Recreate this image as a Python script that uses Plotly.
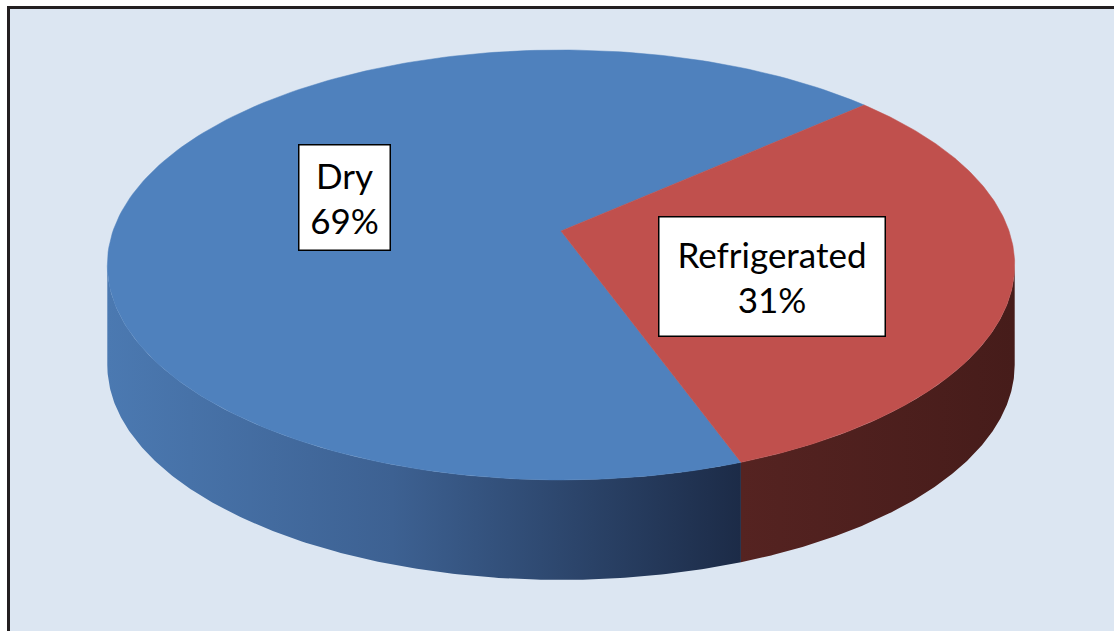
import math
import plotly.graph_objects as go

# ---- data ----
labels = ["Dry", "Refrigerated"]
values = [69, 31]
top_colors = ["#4f81bd", "#c0504d"]
side_scales = [
    [[0, "#4b79b1"], [0.45, "#3d6192"], [1, "#1c2b47"]],
    [[0, "#552321"], [1, "#461c1a"]],
]

# ---- geometry (pixel space) ----
W, H = 1114, 631
VX, VY = 561, 231          # projected centre of the disc
P, R, Q = 448, 209.6, -0.158  # perspective projection parameters
DEPTH = 100
START = -70.0              # angle (deg) where the first slice starts, going clockwise


def proj(theta_deg, dy=0.0):
    t = math.radians(theta_deg)
    u, v = math.cos(t), -math.sin(t)
    den = 1 + Q * v
    return VX + P * u / den, VY + R * v / den + dy


def arc(a0, a1, dy=0.0, n=200):
    xs, ys = [], []
    for i in range(n + 1):
        a = a0 + (a1 - a0) * i / n
        x, y = proj(a, dy)
        xs.append(x)
        ys.append(y)
    return xs, ys


total = sum(values)
spans = [v / total * 360 for v in values]
vis_lo = 180 - math.degrees(math.asin(Q)) - 360   # about -170.9
vis_hi = math.degrees(math.asin(Q))               # about -9.1

fig = go.Figure()

# sides
a = START
slices = []
for i, s in enumerate(spans):
    a0, a1 = a, a - s
    slices.append((a0, a1))
    lo, hi = min(a0, a1), max(a0, a1)
    for k in (-720, -360, 0, 360, 720):
        l2, h2 = max(lo + k, vis_lo), min(hi + k, vis_hi)
        if h2 > l2:
            tx, ty = arc(l2, h2)
            bx, by = arc(h2, l2, DEPTH)
            fig.add_trace(go.Scatter(
                x=tx + bx, y=ty + by, mode="lines", fill="toself",
                line=dict(width=0),
                fillgradient=dict(type="horizontal", colorscale=side_scales[i]),
                hoverinfo="skip", showlegend=False))
    a -= s

# tops
for i, (a0, a1) in enumerate(slices):
    xs, ys = arc(a0, a1)
    fig.add_trace(go.Scatter(
        x=[VX] + xs + [VX], y=[VY] + ys + [VY], mode="lines", fill="toself",
        fillcolor=top_colors[i], line=dict(width=0.5, color=top_colors[i]),
        hoverinfo="skip", showlegend=False))

# labels
label_pos = [(344.5, 197.5, 90, 104), (772, 276.5, 225, 118)]
annotations = []
for i, lab in enumerate(labels):
    pct = round(values[i] / total * 100)
    x, y, w, h = label_pos[i]
    annotations.append(dict(
        x=x, y=y, xref="x", yref="y", text=f"{lab}<br>{pct}%", showarrow=False,
        font=dict(family="Lato", size=35, color="black"),
        bgcolor="white", bordercolor="black", borderwidth=1.5, borderpad=0,
        width=w, height=h, align="center", valign="middle",
        xanchor="center", yanchor="middle"))

shapes = [dict(type="rect", xref="x", yref="y", x0=8.5, y0=7.5, x1=W + 20, y1=H + 20,
               fillcolor="#dce6f2", line=dict(color="#231f20", width=3), layer="below")]

fig.update_layout(
    width=W, height=H, margin=dict(l=0, r=0, t=0, b=0),
    paper_bgcolor="white", plot_bgcolor="rgba(0,0,0,0)",
    xaxis=dict(range=[0, W], visible=False, fixedrange=True),
    yaxis=dict(range=[H, 0], visible=False, fixedrange=True),
    shapes=shapes, annotations=annotations, showlegend=False)

fig.write_html("out.html", config={"displayModeBar": False},
               post_script="document.body.style.margin='0';document.body.style.overflow='hidden';")
